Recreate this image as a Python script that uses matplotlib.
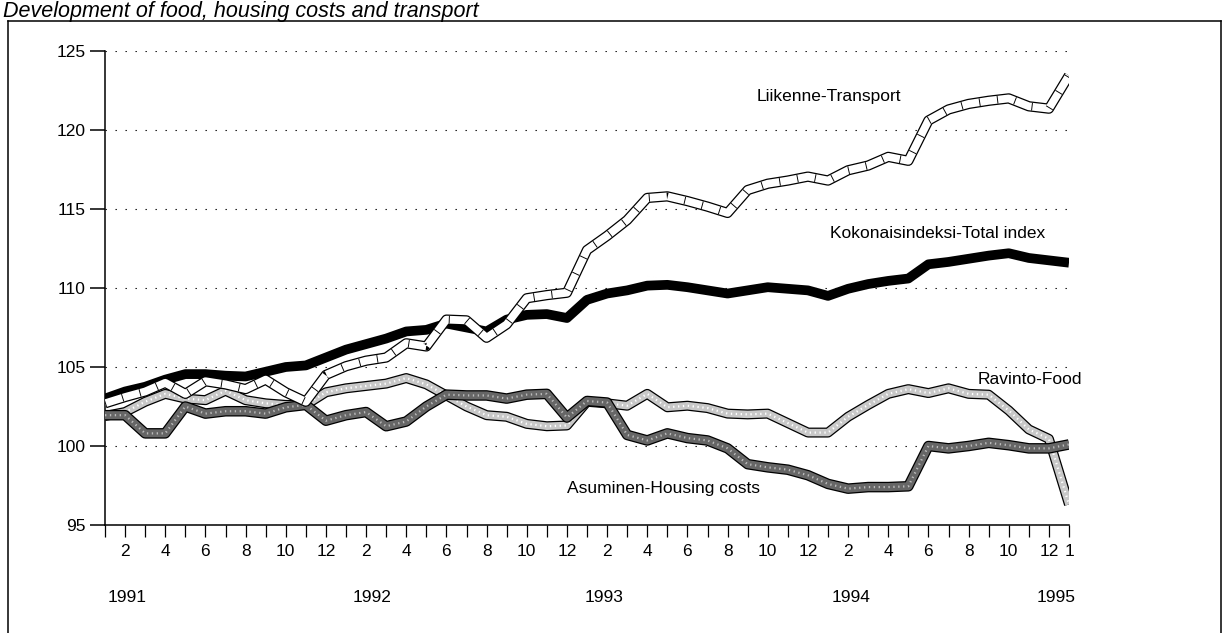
import matplotlib
matplotlib.use('Agg')
import matplotlib.pyplot as plt
from matplotlib.lines import Line2D

plt.rcParams['font.family'] = ['Liberation Sans', 'DejaVu Sans']

# ---- data: monthly index values, Jan 1991 .. Jan 1995 ----
months = list(range(49))
total = [103.0, 103.45, 103.75, 104.2, 104.55, 104.55, 104.45, 104.4, 104.7, 105.0,
         105.1, 105.6, 106.1, 106.45, 106.8, 107.25, 107.35, 107.75, 107.5, 107.25,
         108.0, 108.3, 108.35, 108.1, 109.25, 109.65, 109.85, 110.15, 110.2, 110.05,
         109.85, 109.65, 109.85, 110.05, 109.95, 109.85, 109.5, 109.95, 110.25, 110.45,
         110.6, 111.5, 111.65, 111.85, 112.05, 112.2, 111.9, 111.75, 111.6]
transport = [102.7, 103.1, 103.45, 104.0, 103.3, 104.1, 103.9, 103.6, 104.2, 103.4,
             102.8, 104.5, 105.05, 105.4, 105.6, 106.5, 106.3, 108.0, 107.95, 106.85,
             107.7, 109.35, 109.55, 109.7, 112.4, 113.3, 114.3, 115.7, 115.8, 115.5,
             115.15, 114.75, 116.2, 116.6, 116.8, 117.05, 116.8, 117.45, 117.75, 118.3,
             118.05, 120.6, 121.3, 121.65, 121.85, 122.0, 121.5, 121.35, 123.45]
food = [101.9, 102.15, 102.8, 103.3, 103.0, 102.9, 103.5, 102.9, 102.7, 102.6,
        102.6, 103.4, 103.65, 103.8, 103.95, 104.3, 103.9, 103.2, 102.5, 101.95,
        101.85, 101.4, 101.25, 101.3, 102.8, 102.7, 102.55, 103.3, 102.45, 102.55,
        102.4, 102.05, 102.0, 102.05, 101.45, 100.85, 100.85, 101.85, 102.6, 103.3,
        103.6, 103.35, 103.65, 103.3, 103.25, 102.25, 101.05, 100.45, 96.3]
housing = [101.95, 101.95, 100.8, 100.8, 102.5, 102.05, 102.2, 102.2, 102.05, 102.45,
           102.6, 101.6, 101.95, 102.15, 101.25, 101.55, 102.5, 103.25, 103.2, 103.2,
           103.0, 103.25, 103.3, 101.8, 102.85, 102.75, 100.7, 100.35, 100.8, 100.5,
           100.35, 99.85, 98.85, 98.65, 98.5, 98.15, 97.6, 97.3, 97.4, 97.4,
           97.45, 100.0, 99.85, 100.0, 100.2, 100.05, 99.85, 99.85, 100.1]
y_ticks = [95, 100, 105, 110, 115, 120, 125]
years = ['1991', '1992', '1993', '1994', '1995']
series_labels = ['Liikenne-Transport', 'Kokonaisindeksi-Total index',
                 'Ravinto-Food', 'Asuminen-Housing costs']
title = 'Development of food, housing costs and transport'

# ---- figure ----
W, H = 1225, 633
fig = plt.figure(figsize=(12.25, 6.33), dpi=100)
fig.patch.set_facecolor('white')


def fx(px):
    return px / W


def fy(py):
    return 1 - py / H


ax = fig.add_axes([fx(105), fy(525), fx(1069) - fx(105), fy(51) - fy(525)])
ax.set_xlim(0, 48)
ax.set_ylim(95, 125)

band = dict(solid_joinstyle='round', solid_capstyle='butt')

# food band
ax.plot(months, food, color='black', lw=7.2, zorder=3, **band)
ax.plot(months, food, color='#c8c8c8', lw=5.4, zorder=3.1, **band)
ax.plot(months, food, color='white', lw=1.6, ls=(0, (0.6, 1.6)), zorder=3.2)
# housing band
ax.plot(months, housing, color='black', lw=7.6, zorder=4, **band)
ax.plot(months, housing, color='#666666', lw=5.8, zorder=4.1, **band)
ax.plot(months, housing, color='#bbbbbb', lw=1.6, ls=(0, (0.6, 1.6)), zorder=4.2)
# total index
ax.plot(months, total, color='black', lw=7.0, zorder=5, **band)
# transport band (hatched white)
ax.plot(months, transport, color='black', lw=7.4, zorder=6, **band)
ax.plot(months, transport, color='white', lw=5.6, zorder=6.1, **band)
ax.plot(months, transport, color='black', lw=5.6, ls=(0, (0.12, 2.2)),
        dash_capstyle='butt', zorder=6.2)

# grid and axes
ax.set_yticks(y_ticks)
ax.set_yticklabels([str(v) for v in y_ticks])
ax.grid(axis='y', color='black', lw=0.8, ls=(0, (1.2, 7.8)))
ax.set_axisbelow(True)
for s in ['top', 'right']:
    ax.spines[s].set_visible(False)
for s in ['left', 'bottom']:
    ax.spines[s].set_linewidth(1.1)

ax.set_xticks(months)
labels = []
for m in months:
    mo = m % 12 + 1
    if m == 48:
        labels.append('1')
    elif mo % 2 == 0:
        labels.append(str(mo))
    else:
        labels.append('')
ax.set_xticklabels(labels)
ax.set_xticks([11, 23, 35, 47], minor=True)
ax.tick_params(axis='x', which='major', direction='out', length=8.6, width=0.9,
               pad=5, labelsize=12.5)
ax.tick_params(axis='x', which='minor', direction='out', length=14, width=0.9)
ax.tick_params(axis='y', direction='out', length=10.8, width=1.1, pad=3,
               labelsize=12.5)

# year labels
year_x = [108, 353, 585, 832, 1037]
for yx, yl in zip(year_x, years):
    fig.text(fx(yx), fy(597), yl, fontsize=12.5, ha='left', va='center')

# series labels
lab_pos = [(757, 97), (830, 233), (978, 380), (567, 489)]
for (lx, ly), t in zip(lab_pos, series_labels):
    fig.text(fx(lx), fy(ly), t, fontsize=12.5, ha='left', va='center')

# title
fig.text(fx(3), fy(16.5), title, fontsize=15.5, style='italic', ha='left',
         va='baseline')

# frame
for xs, ys in [([8, 8], [21, 640]), ([8, 1221], [21, 21]), ([1221, 1221], [21, 640])]:
    fig.add_artist(Line2D([fx(x) for x in xs], [fy(y) for y in ys],
                          color='black', lw=1.1, transform=fig.transFigure))

fig.savefig('out.png', dpi=100, facecolor='white')
